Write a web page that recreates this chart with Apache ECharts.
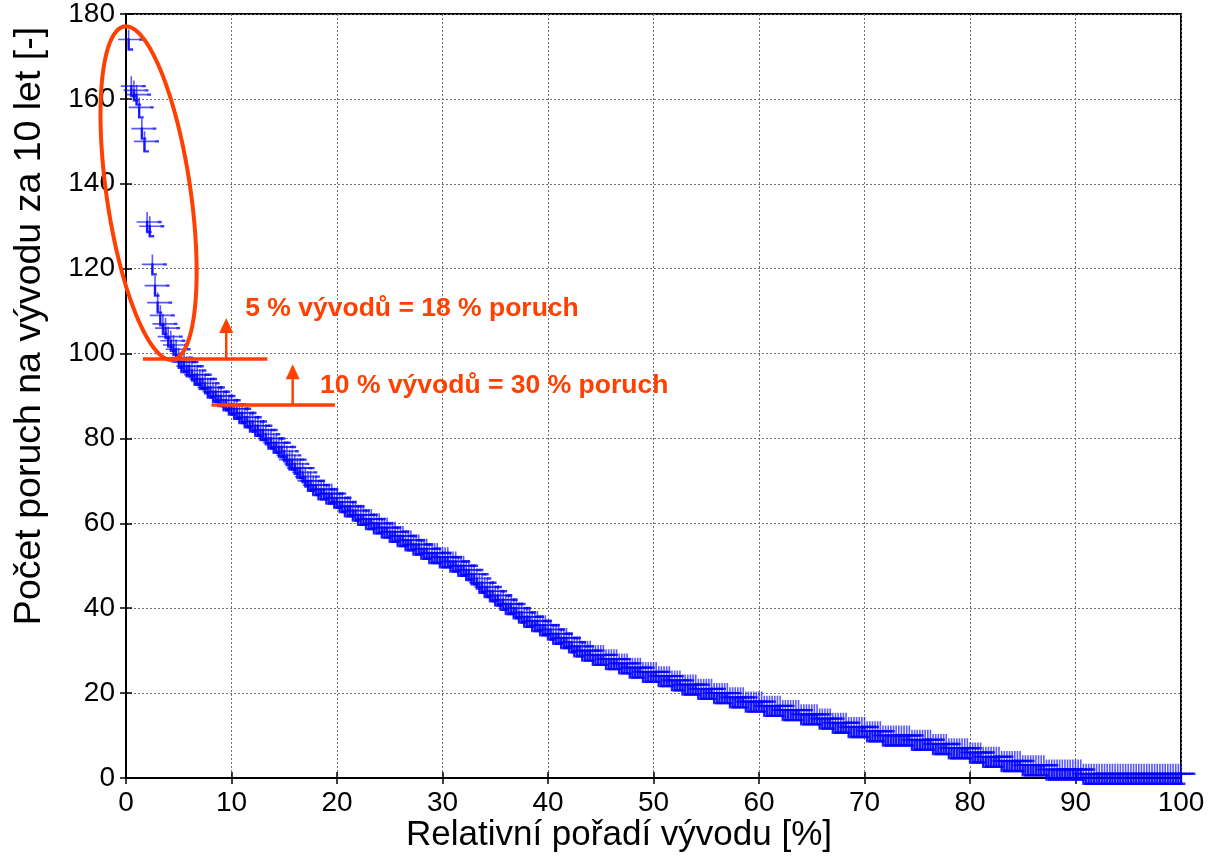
<!DOCTYPE html>
<html>
<head>
<meta charset="utf-8">
<script src="https://cdn.jsdelivr.net/npm/echarts@6/dist/echarts.min.js"></script>
<style>
html,body{margin:0;padding:0;background:#fff;}
#c{width:1211px;height:860px;}
</style>
</head>
<body>
<div id="c"></div>
<script>
// Number of failures per outlet over 10 years, outlets sorted in descending order
const failures = [
  174,163,162,161,158,153,150,131,130,121,116,112,109,107,106,104,103,102,101,99,
  98,98,97,97,96,95,95,94,94,93,92,92,91,91,90,90,89,89,88,88,
  87,87,86,86,85,85,84,84,83,83,82,82,81,80,80,79,79,78,78,77,
  76,75,75,74,73,73,72,71,70,70,69,69,68,68,68,67,67,67,66,66,
  65,65,64,64,64,63,63,62,62,62,61,61,61,60,60,60,59,59,59,58,
  58,58,57,57,57,56,56,56,55,55,55,54,54,54,53,53,53,53,52,52,
  52,52,51,51,51,50,50,50,49,49,48,48,47,46,46,45,45,44,44,43,
  43,42,42,41,41,41,40,40,39,39,38,38,38,37,37,37,36,36,36,35,
  35,34,34,34,33,33,33,32,32,31,31,31,30,30,30,30,29,29,29,29,
  29,28,28,28,28,28,27,27,27,27,26,26,26,26,26,25,25,25,25,25,
  25,24,24,24,24,24,23,23,23,23,22,22,22,22,22,22,21,21,21,21,
  21,21,20,20,20,20,20,20,19,19,19,19,19,19,18,18,18,18,18,18,
  18,17,17,17,17,17,17,17,16,16,16,16,16,16,16,15,15,15,15,15,
  15,15,14,14,14,14,14,13,13,13,13,13,13,12,12,12,12,12,12,12,
  11,11,11,11,11,11,10,10,10,10,10,10,10,10,10,10,10,9,9,9,
  9,9,9,9,9,8,8,8,8,8,8,7,7,7,7,7,7,7,7,6,
  6,6,6,6,5,5,5,5,5,5,5,4,4,4,4,4,4,4,4,3,
  3,3,3,3,3,3,3,3,2,2,2,2,2,2,2,2,2,2,2,2,
  2,2,1,1,1,1,1,1,1,1,1,1,1,1,1,1,1,1,1,1,
  1,1,1,1,1,1,1,1,1,1,1,1,1,1,1,1,1,1,1,1
];
const xTitle = 'Relativní pořadí vývodu [%]';
const yTitle = 'Počet poruch na vývodu za 10 let [-]';
const note1 = '5 % vývodů = 18 % poruch';
const note2 = '10 % vývodů = 30 % poruch';

// relative order of each outlet in percent (rank / count * 100)
const points = failures.map((v, i) => [(i + 1) / failures.length * 100, v]);

const FONT = '"Liberation Sans", Arial, sans-serif';
const RED = '#ff4000';

const chart = echarts.init(document.getElementById('c'), null, {renderer: 'canvas'});

const plusPath = 'path://M-0.8,-10 H0.8 V-0.8 H10.5 V0.8 H0.8 V10 H-0.8 V0.8 H-10.5 V-0.8 H-0.8 Z';
const darkPath = 'path://M-1.2,-1.2 H1.2 V8.8 H4.5 V11.2 H-1.2 Z M10.5,-1.2 H14.5 V1.2 H10.5 Z';

const option = {
  animation: false,
  backgroundColor: '#fff',
  grid: {left: 126, top: 14, right: 30, bottom: 82, show: true, borderColor: '#000', borderWidth: 2, containLabel: false},
  xAxis: [{
    type: 'value', min: 0, max: 100, interval: 10,
    axisLine: {show: true, onZero: false, lineStyle: {color: '#000', width: 2}},
    axisTick: {show: true, inside: true, length: 6, lineStyle: {color: '#000', width: 1.5}},
    axisLabel: {fontSize: 28, color: '#000', fontFamily: FONT, margin: 11},
    splitLine: {show: true, lineStyle: {color: '#707070', type: [2, 2], width: 1}}
  }, {
    type: 'value', min: 0, max: 100, interval: 10, position: 'top',
    axisLine: {show: false}, axisLabel: {show: false}, splitLine: {show: false},
    axisTick: {show: true, inside: true, length: 6, lineStyle: {color: '#000', width: 1.5}}
  }],
  yAxis: [{
    type: 'value', min: 0, max: 180, interval: 20,
    axisLine: {show: true, onZero: false, lineStyle: {color: '#000', width: 2}},
    axisTick: {show: true, inside: true, length: 6, lineStyle: {color: '#000', width: 1.5}},
    axisLabel: {fontSize: 28, color: '#000', fontFamily: FONT, margin: 11},
    splitLine: {show: true, lineStyle: {color: '#707070', type: [2, 2], width: 1}}
  }, {
    type: 'value', min: 0, max: 180, interval: 20, position: 'right',
    axisLine: {show: false}, axisLabel: {show: false}, splitLine: {show: false},
    axisTick: {show: true, inside: true, length: 6, lineStyle: {color: '#000', width: 1.5}}
  }],
  series: [{
    type: 'scatter', xAxisIndex: 0, yAxisIndex: 0, data: points,
    symbol: plusPath, symbolSize: [21, 20], symbolKeepAspect: false,
    itemStyle: {color: 'rgba(10,10,255,0.85)'}, silent: true, z: 3
  }, {
    type: 'scatter', xAxisIndex: 0, yAxisIndex: 0, data: points,
    symbol: darkPath, symbolSize: [15.7, 12.4], symbolOffset: [6.65, 5.0], symbolKeepAspect: false,
    itemStyle: {color: '#0000ff'}, silent: true, z: 4
  }]
};
chart.setOption(option);

// Annotations (positions in data coordinates)
const px = (x, y) => chart.convertToPixel({xAxisIndex: 0, yAxisIndex: 0}, [x, y]);
const g = [];
function hline(y, x0, x1) {
  const a = px(x0, y), b = px(x1, y);
  g.push({type: 'line', z: 10, shape: {x1: a[0], y1: a[1], x2: b[0], y2: b[1]}, style: {stroke: RED, lineWidth: 3.5}});
}
function arrow(x, yBase, yTip) {
  const a = px(x, yBase), t = px(x, yTip);
  const headLen = 15, headHalf = 7;
  g.push({type: 'line', z: 10, shape: {x1: a[0], y1: a[1], x2: t[0], y2: t[1] + headLen}, style: {stroke: RED, lineWidth: 2.5}});
  g.push({type: 'polygon', z: 10, shape: {points: [[t[0], t[1]], [t[0] - headHalf, t[1] + headLen], [t[0] + headHalf, t[1] + headLen]]}, style: {fill: RED}});
}
function note(text, x, y) {
  const p = px(x, y);
  g.push({type: 'text', z: 10, x: p[0], y: p[1], style: {text: text, fill: RED, fontSize: 26.5, fontWeight: 'bold', fontFamily: FONT, align: 'left', verticalAlign: 'middle'}});
}
hline(98.7, 1.6, 13.4);
arrow(9.5, 98.7, 108.4);
hline(87.9, 8.1, 19.8);
arrow(15.8, 87.9, 97.5);
note(note1, 11.3, 110.5);
note(note2, 18.4, 92.5);

// Ellipse around the top outlets
(function () {
  const c = px(2.14, 137.8);
  const a = 168.4, b = 42;
  const u = [0.1434, 0.9896], v = [0.9896, -0.1434];
  const pts = [];
  for (let k = 0; k < 180; k++) {
    const t = k / 180 * Math.PI * 2;
    pts.push([c[0] + a * Math.sin(t) * u[0] + b * Math.cos(t) * v[0],
              c[1] + a * Math.sin(t) * u[1] + b * Math.cos(t) * v[1]]);
  }
  g.push({type: 'polygon', z: 11, shape: {points: pts}, style: {fill: 'transparent', stroke: RED, lineWidth: 4}});
})();

// Axis titles
g.push({type: 'text', z: 5, x: 619, y: 835, style: {text: xTitle, fill: '#000', fontSize: 35, fontFamily: FONT, align: 'center', verticalAlign: 'middle'}});
g.push({type: 'text', z: 5, x: 30, y: 326, rotation: Math.PI / 2, style: {text: yTitle, fill: '#000', fontSize: 37.5, fontFamily: FONT, align: 'center', verticalAlign: 'middle'}});
chart.setOption({graphic: g});
</script>
</body>
</html>
